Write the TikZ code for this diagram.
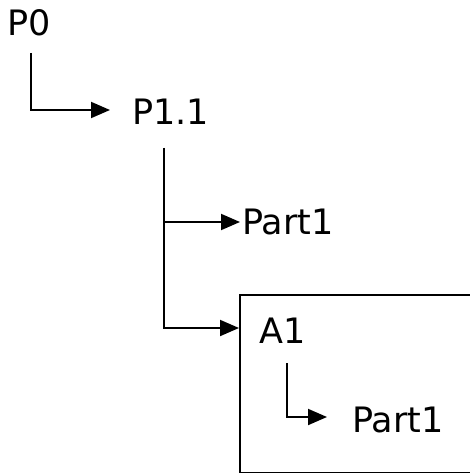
\documentclass[tikz,border=0pt]{standalone}
\usepackage{fontspec}
\setmainfont{DejaVu Sans}
\usetikzlibrary{arrows.meta}
\begin{document}
\begin{tikzpicture}[x=1pt,y=-1pt,
  lbl/.style={inner sep=0pt, anchor=base west, font=\fontsize{35}{40}\selectfont},
  conn/.style={line width=1.9pt, -{Triangle[length=19pt,width=16pt]}},
  frame/.style={draw, line width=1.9pt, anchor=north west, minimum width=300pt, minimum height=178pt, inner sep=0pt}]
\useasboundingbox (0,0) rectangle (470,473);
\clip (0,0) rectangle (470,473);
\node[lbl] (P0) at (7,36) {P0};
\node[lbl] (P11) at (132,125) {P1.1};
\node[lbl] (PartA) at (242,234) {Part1};
\node[frame] (box) at (239,294) {};
\node[lbl] (A1) at (259,343) {A1};
\node[lbl] (PartB) at (352,432) {Part1};
\draw[conn] ([xshift=24pt,yshift=-17pt]P0.base west) |- ([xshift=-22pt,yshift=15pt]P11.base west);
\draw[conn] ([xshift=32pt,yshift=-23pt]P11.base west) |- ([xshift=-2pt,yshift=12pt]PartA.base west);
\draw[conn] ([xshift=32pt,yshift=-23pt]P11.base west) |- ([yshift=-34pt]box.north west);
\draw[conn] ([xshift=28pt,yshift=-20pt]A1.base west) |- ([xshift=-25pt,yshift=15pt]PartB.base west);
\end{tikzpicture}
\end{document}
